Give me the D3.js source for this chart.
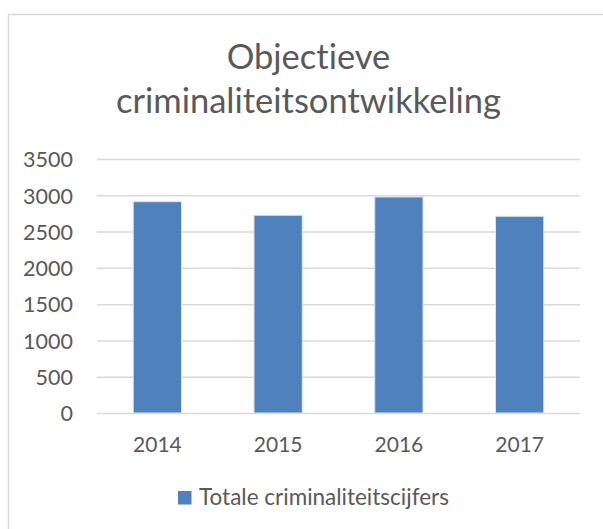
<!DOCTYPE html>
<html>
<head>
<meta charset="utf-8">
<script src="https://cdn.jsdelivr.net/npm/d3@7"></script>
<style>
  body { margin: 0; background: #fff; }
  text { font-family: Lato, "Open Sans", sans-serif; fill: #595959; font-variant-ligatures: none; }
</style>
</head>
<body>
<svg id="chart" width="603" height="529"></svg>
<script>
var years = ["2014", "2015", "2016", "2017"];
var totals = [2912, 2725, 2977, 2711];
var yTicks = [0, 500, 1000, 1500, 2000, 2500, 3000, 3500];
var titleLines = ["Objectieve", "criminaliteitsontwikkeling"];
var seriesName = "Totale criminaliteitscijfers";

var margin = { top: 159, left: 97, right: 23, bottom: 116 };
var W = 603, H = 529;
var width = W - margin.left - margin.right;
var height = H - margin.top - margin.bottom;

var svg = d3.select("#chart");

// chart area border (runs past the right and bottom edge)
svg.append("rect")
    .attr("x", 8.5).attr("y", 14.5)
    .attr("width", 610).attr("height", 530)
    .attr("fill", "#fff")
    .attr("stroke", "#d9d9d9")
    .attr("stroke-width", 1.5);

svg.append("g")
    .selectAll("text")
    .data(titleLines)
    .enter().append("text")
    .attr("x", 308.5)
    .attr("y", function (d, i) { return 69 + i * 44; })
    .attr("text-anchor", "middle")
    .style("font-size", "34.5px")
    .text(function (d) { return d; });

var g = svg.append("g")
    .attr("transform", "translate(" + margin.left + "," + margin.top + ")");

var x = d3.scaleBand().domain(years).range([0, width]).paddingInner(0.6).paddingOuter(0.3);
var y = d3.scaleLinear().domain([0, 3500]).range([height, 0]);

var y_axis = d3.axisLeft(y).tickValues(yTicks).tickFormat(d3.format("d"))
    .tickSize(-width).tickPadding(24);
var yg = g.append("g").attr("class", "y axis").call(y_axis);
yg.select(".domain").remove();
yg.selectAll("line").attr("stroke", "#d9d9d9").attr("stroke-width", 1.5);
yg.selectAll("text").style("font-size", "21.5px").attr("dy", "0.36em");

g.selectAll(".bar")
    .data(totals)
    .enter().append("rect")
    .attr("class", "bar")
    .attr("x", function (d, i) { return x(years[i]); })
    .attr("y", function (d) { return y(d); })
    .attr("width", x.bandwidth())
    .attr("height", function (d) { return height - y(d); })
    .attr("fill", "#4f81bd")
    .attr("stroke", "#dce6f2")
    .attr("stroke-width", 1);

var x_axis = d3.axisBottom(x).tickSize(0).tickPadding(24);
var xg = g.append("g").attr("class", "x axis")
    .attr("transform", "translate(0," + height + ")")
    .call(x_axis);
xg.select(".domain").remove();
xg.selectAll("text").style("font-size", "21px");

// legend
var lg = svg.append("g").attr("transform", "translate(178,491)");
lg.append("rect").attr("width", 13.5).attr("height", 13.5).attr("fill", "#4f81bd");
lg.append("text").attr("x", 21).attr("y", 14)
    .style("font-size", "22.5px")
    .text(seriesName);
</script>
</body>
</html>
